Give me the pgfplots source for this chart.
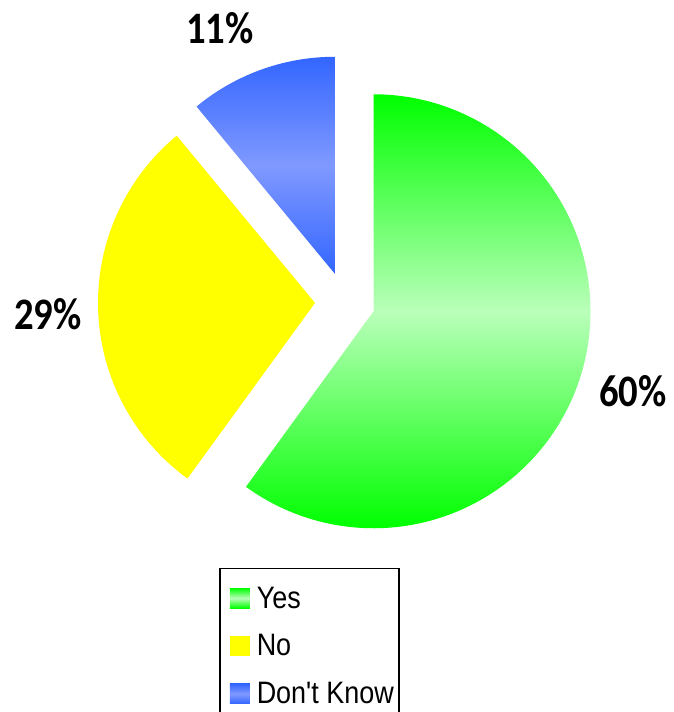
\documentclass[border=0pt]{standalone}
\usepackage{fontspec}
\usepackage{pgfplots}
\pgfplotsset{compat=1.18}
\setmainfont{Liberation Sans}
\newfontfamily\labfont[FakeStretch=0.86]{Carlito}
\newfontfamily\legfont[FakeStretch=0.87]{Liberation Sans}
\definecolor{gEdge}{RGB}{0,255,0}
\definecolor{gMid}{RGB}{186,255,186}
\definecolor{yel}{RGB}{255,255,0}
\definecolor{bEdge}{RGB}{51,102,255}
\definecolor{bMid}{RGB}{128,153,255}
\tikzset{
  yesstyle/.style={top color=gEdge, bottom color=gEdge, middle color=gMid},
  nostyle/.style={fill=yel},
  dkstyle/.style={top color=bEdge, bottom color=bEdge, middle color=bMid},
}
\def\cx{345}\def\cy{410}\def\dd{30}\def\R{217}
\newcommand\pieslice[3]{%
  \pgfmathsetmacro\aA{90-3.6*(#1)}%
  \pgfmathsetmacro\aB{90-3.6*((#1)+(#2))}%
  \pgfmathsetmacro\aM{(\aA+\aB)/2}%
  \pgfmathsetmacro\vx{\cx+\dd*cos(\aM)}%
  \pgfmathsetmacro\vy{\cy+\dd*sin(\aM)}%
  \edef\temp{\noexpand\addplot[#3, draw=none, domain=\aB:\aA, samples=150] ({\vx+\R*cos(x)},{\vy+\R*sin(x)}) -- (axis cs:\vx,\vy) -- cycle;}%
  \temp
}
\begin{document}
\begin{tikzpicture}
\begin{axis}[
  name=ax,
  scale only axis, width=674pt, height=712pt,
  xmin=0, xmax=674, ymin=0, ymax=712,
  hide axis, clip=false,
  legend entries={Yes,No,Don't Know},
  legend cell align=left,
  legend image code/.code={\fill[#1] (6pt,-10pt) rectangle (26pt,10pt); \path (0pt,0pt) (32pt,0pt);},
  legend style={at={(axis cs:219,144)}, anchor=north west, draw=black, line width=1.5pt,
    font=\fontsize{31}{33}\legfont, inner xsep=4pt, inner ysep=15pt, row sep=19pt,
    nodes={inner xsep=1pt, inner ysep=3pt}},
]
\pieslice{0}{60}{yesstyle}
\pieslice{60}{29}{nostyle}
\pieslice{89}{11}{dkstyle}
\node[font=\fontsize{45}{45}\labfont\bfseries] at (axis cs:633,321) {60\%};
\node[font=\fontsize{45}{45}\labfont\bfseries] at (axis cs:48,398) {29\%};
\node[font=\fontsize{45}{45}\labfont\bfseries] at (axis cs:220,684) {11\%};
\end{axis}
\pgfresetboundingbox
\useasboundingbox (ax.south west) rectangle (ax.north east);
\end{tikzpicture}
\end{document}
